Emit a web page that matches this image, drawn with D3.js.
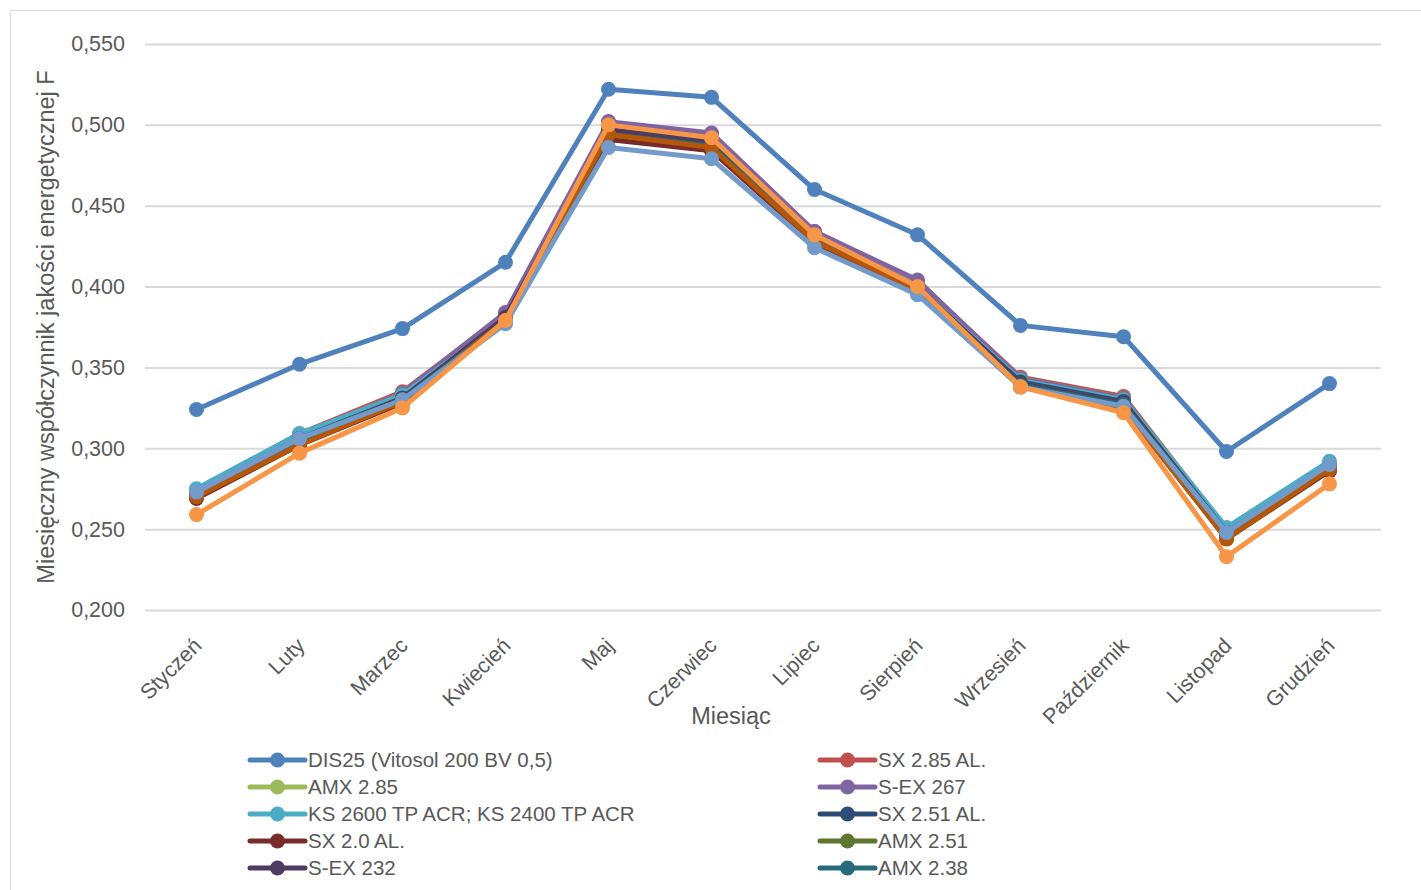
<!DOCTYPE html>
<html>
<head>
<meta charset="utf-8">
<script src="https://cdn.jsdelivr.net/npm/d3@7"></script>
<style>
  html, body { margin: 0; padding: 0; background: #fff; }
  svg { display: block; font-family: "Liberation Sans", Arial, sans-serif; }
</style>
</head>
<body>
<svg id="chart" width="1421" height="890"></svg>
<script>
// Months on the category axis
const months = ["Styczeń", "Luty", "Marzec", "Kwiecień", "Maj", "Czerwiec", "Lipiec",
  "Sierpień", "Wrzesień", "Październik", "Listopad", "Grudzień"];

// Y-axis tick values
const yTicks = [0.200, 0.250, 0.300, 0.350, 0.400, 0.450, 0.500, 0.550];

// Monthly energy quality factor F per collector
const dis25      = [0.324, 0.352, 0.374, 0.415, 0.522, 0.517, 0.460, 0.432, 0.376, 0.369, 0.298, 0.340];
const sx285al    = [0.274, 0.309, 0.335, 0.383, 0.501, 0.494, 0.434, 0.403, 0.344, 0.332, 0.250, 0.290];
const amx285     = [0.273, 0.308, 0.334, 0.382, 0.500, 0.493, 0.433, 0.402, 0.343, 0.331, 0.250, 0.290];
const sex267     = [0.273, 0.308, 0.334, 0.384, 0.502, 0.495, 0.434, 0.404, 0.343, 0.331, 0.249, 0.289];
const ks2600     = [0.275, 0.309, 0.333, 0.380, 0.498, 0.491, 0.431, 0.400, 0.342, 0.330, 0.251, 0.292];
const sx251al    = [0.272, 0.306, 0.331, 0.380, 0.496, 0.489, 0.430, 0.399, 0.341, 0.329, 0.248, 0.289];
const sx20al     = [0.269, 0.302, 0.328, 0.378, 0.491, 0.484, 0.427, 0.397, 0.338, 0.325, 0.244, 0.286];
const amx251     = [0.271, 0.305, 0.331, 0.380, 0.495, 0.488, 0.430, 0.399, 0.340, 0.328, 0.247, 0.288];
const sex232     = [0.271, 0.305, 0.331, 0.381, 0.497, 0.490, 0.431, 0.400, 0.340, 0.328, 0.247, 0.288];
const amx238     = [0.270, 0.304, 0.330, 0.379, 0.494, 0.487, 0.429, 0.398, 0.339, 0.327, 0.246, 0.287];
const series11   = [0.270, 0.302, 0.329, 0.379, 0.494, 0.486, 0.428, 0.398, 0.338, 0.325, 0.244, 0.287];
const series12   = [0.273, 0.306, 0.330, 0.377, 0.486, 0.479, 0.424, 0.395, 0.338, 0.326, 0.248, 0.290];
const series13   = [0.259, 0.297, 0.325, 0.379, 0.500, 0.492, 0.432, 0.400, 0.338, 0.322, 0.233, 0.278];

const seriesNames = ["DIS25 (Vitosol 200 BV 0,5)", "SX 2.85 AL.", "AMX 2.85", "S-EX 267",
  "KS 2600 TP ACR; KS 2400 TP ACR", "SX 2.51 AL.", "SX 2.0 AL.", "AMX 2.51", "S-EX 232", "AMX 2.38",
  "Seria 11", "Seria 12", "Seria 13"];
const seriesValues = [dis25, sx285al, amx285, sex267, ks2600, sx251al, sx20al, amx251, sex232, amx238,
  series11, series12, series13];
const seriesColors = ["#4f81bd", "#c0504d", "#9bbb59", "#8064a2", "#4bacc6", "#2c4d75", "#772c2a",
  "#5f7530", "#4d3b62", "#276a7c", "#b65708", "#729aca", "#f79646"];
// Number of series listed in the visible legend area
const legendCount = 10;

const svg = d3.select("#chart");

// Outer chart frame
svg.append("rect")
  .attr("x", 10.5).attr("y", 10.5)
  .attr("width", 1440).attr("height", 1000)
  .attr("fill", "none").attr("stroke", "#d9d9d9").attr("stroke-width", 1);

const plot = { left: 145, right: 1381, top: 44, bottom: 610 };

const x = d3.scalePoint().domain(months).range([plot.left, plot.right]).padding(0.5);
const y = d3.scaleLinear().domain([0.2, 0.55]).range([plot.bottom, plot.top]);

const fmt = v => d3.format(".3f")(v).replace(".", ",");

// Horizontal gridlines with tick labels
const yAxis = d3.axisLeft(y).tickValues(yTicks).tickFormat(fmt)
  .tickSize(-(plot.right - plot.left)).tickPadding(20);
const gy = svg.append("g").attr("transform", `translate(${plot.left},0)`).call(yAxis);
gy.select(".domain").remove();
gy.selectAll(".tick line").attr("stroke", "#d9d9d9").attr("stroke-width", 2);
gy.selectAll(".tick text").attr("fill", "#595959").attr("font-size", 21.5)
  .attr("font-family", "'Liberation Sans', Arial, sans-serif");

// Category labels, rotated
const xAxis = d3.axisBottom(x).tickSize(0).tickPadding(0);
const gx = svg.append("g").attr("transform", `translate(0,${plot.bottom})`).call(xAxis);
gx.select(".domain").remove();
gx.selectAll(".tick text")
  .attr("fill", "#595959").attr("font-size", 21.5)
  .attr("font-family", "'Liberation Sans', Arial, sans-serif")
  .attr("text-anchor", "end")
  .attr("dy", null)
  .attr("transform", "translate(6,37) rotate(-45)");

// Axis titles
svg.append("text")
  .attr("transform", `translate(54,${(plot.top + plot.bottom) / 2}) rotate(-90)`)
  .attr("text-anchor", "middle")
  .attr("fill", "#595959").attr("font-size", 23.5)
  .text("Miesięczny współczynnik jakości energetycznej F");

svg.append("text")
  .attr("x", 731).attr("y", 724)
  .attr("text-anchor", "middle")
  .attr("fill", "#595959").attr("font-size", 23.5)
  .text("Miesiąc");

// Series lines and markers
const line = d3.line().x((d, i) => x(months[i])).y(d => y(d));
const gSeries = svg.append("g");
seriesValues.forEach((vals, si) => {
  const g = gSeries.append("g");
  g.append("path")
    .attr("d", line(vals))
    .attr("fill", "none")
    .attr("stroke", seriesColors[si])
    .attr("stroke-width", 5)
    .attr("stroke-linejoin", "round")
    .attr("stroke-linecap", "round");
  g.selectAll("circle").data(vals).join("circle")
    .attr("cx", (d, i) => x(months[i]))
    .attr("cy", d => y(d))
    .attr("r", 7.5)
    .attr("fill", seriesColors[si]);
});

// Legend in two columns
const legend = svg.append("g");
const colX = [250, 820];
const rowY0 = 760, rowStep = 27;
seriesNames.slice(0, legendCount).forEach((name, i) => {
  const col = i % 2, row = Math.floor(i / 2);
  const gx0 = colX[col], gy0 = rowY0 + row * rowStep;
  const item = legend.append("g").attr("transform", `translate(${gx0},${gy0})`);
  item.append("line").attr("x1", 0).attr("x2", 55).attr("y1", 0).attr("y2", 0)
    .attr("stroke", seriesColors[i]).attr("stroke-width", 5).attr("stroke-linecap", "round");
  item.append("circle").attr("cx", 27.5).attr("cy", 0).attr("r", 7.5).attr("fill", seriesColors[i]);
  item.append("text").attr("x", 58).attr("y", 0).attr("dy", "0.35em")
    .attr("fill", "#595959").attr("font-size", 20.5).text(name);
});
</script>
</body>
</html>
